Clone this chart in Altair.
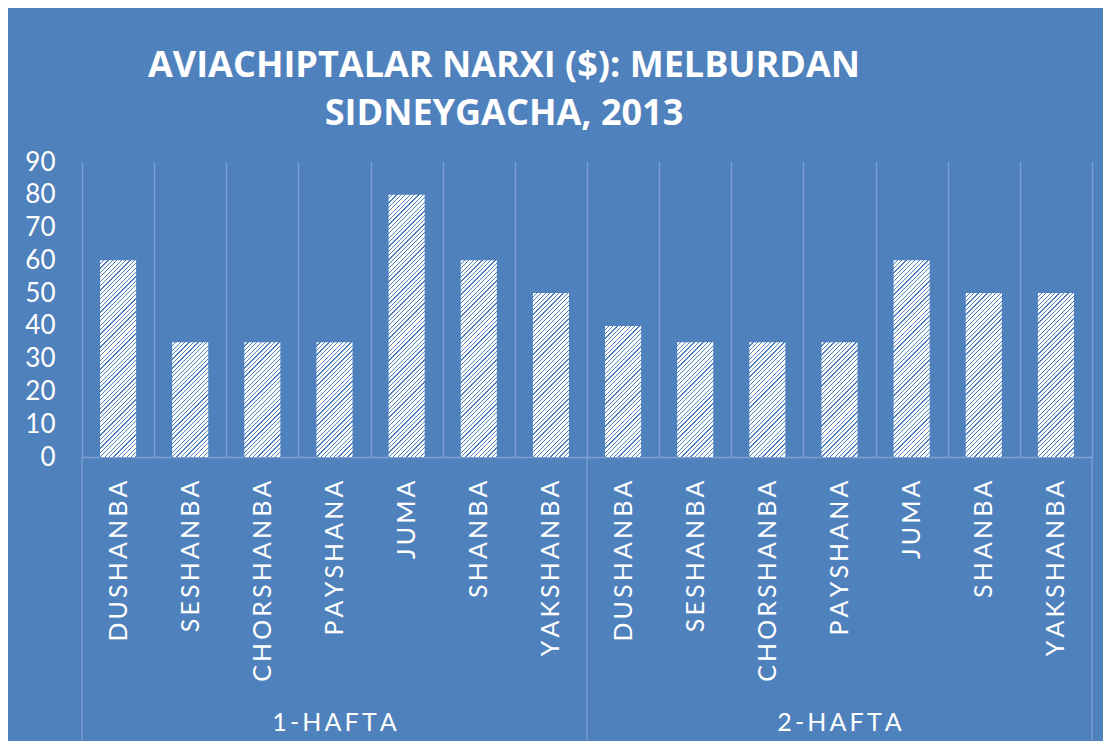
import json
import altair as alt
import pandas as pd

# ---------------- data ----------------
weeks = ["1-HAFTA", "2-HAFTA"]
days = ["DUSHANBA", "SESHANBA", "CHORSHANBA", "PAYSHANA", "JUMA", "SHANBA", "YAKSHANBA"]
week1_prices = [60, 35, 35, 35, 80, 60, 50]
week2_prices = [40, 35, 35, 35, 60, 50, 50]
y_ticks = [0, 10, 20, 30, 40, 50, 60, 70, 80, 90]
title_lines = ["AVIACHIPTALAR NARXI ($): MELBURDAN", "SIDNEYGACHA, 2013"]

# ---------------- layout / style ----------------
PLOT_W, PLOT_H = 1010, 295
BG = "#4F81BD"
GRID = "#7FA1D2"
FONT = "Lato"
THIN = "\u2009"

n_days = len(days)
n_cat = n_days * len(weeks)
step_px = PLOT_W / n_cat
bar_w_px = step_px * 0.5

rows = []
for wi, (wk, vals) in enumerate(zip(weeks, [week1_prices, week2_prices])):
    for di, (d, v) in enumerate(zip(days, vals)):
        rows.append({"week": wk, "day": d, "idx": wi * n_days + di, "value": v})
bars_df = pd.DataFrame(rows)

sep_df = pd.DataFrame({"x": [i * n_days for i in range(len(weeks) + 1)]})
grp_df = pd.DataFrame({"x": [i * n_days + n_days / 2 for i in range(len(weeks))],
                       "week": weeks})

y_max = y_ticks[-1]


def hatch(v, period=4.4, blue_frac=0.28, blue=BG):
    h = v * PLOT_H / y_max
    w = bar_w_px
    k = (w + h) / (w * w + h * h)
    n = max(1, round((w + h) / period))
    stops = []
    for i in range(n):
        a = i / n
        m = (i + 1 - blue_frac) / n
        b = (i + 1) / n
        stops += [
            alt.GradientStop(offset=round(a, 5), color="white"),
            alt.GradientStop(offset=round(m, 5), color="white"),
            alt.GradientStop(offset=round(m, 5), color=blue),
            alt.GradientStop(offset=round(b, 5), color=blue),
        ]
    return alt.LinearGradient(gradient="linear", stops=stops,
                              x1=0, y1=0, x2=round(k * w, 5), y2=round(k * h, 5))


label_arr = json.dumps(days)
label_expr = (f"datum.value < {n_cat} ? join(split({label_arr}[datum.value % {n_days}], ''), '{THIN}') : ''")

x_scale = alt.Scale(domain=[0, n_cat], nice=False, zero=False)
y_scale = alt.Scale(domain=[0, y_max], nice=False)

x_axis = alt.Axis(
    title="", values=list(range(n_cat + 1)), labelExpr=label_expr,
    grid=True, gridColor=GRID, gridWidth=1.3,
    domain=True, domainColor=GRID, domainWidth=1.3,
    ticks=False, tickSize=0,
    labelAngle=270, labelAlign="right", labelBaseline="middle",
    labelPadding=23, labelOffset=step_px / 2, labelLimit=400,
    labelFont=FONT, labelFontSize=25, labelColor="white",
    labelOverlap=False, labelFlush=False, labelBound=False,
)
y_axis = alt.Axis(
    title="", values=y_ticks, grid=False, domain=False, ticks=False, tickSize=0,
    labelPadding=27, labelFont=FONT, labelFontSize=26, labelColor="white",
    labelOverlap=False, labelFlush=False, labelBound=False,
)

base = alt.Chart(bars_df).transform_calculate(
    x="datum.idx + 0.25", x2="datum.idx + 0.75", base0="0"
)

bar_layers = []
for v in sorted(set(week1_prices + week2_prices)):
    bar_layers.append(
        base.transform_filter(alt.datum.value == v)
        .mark_bar(fill=hatch(v), strokeWidth=0)
        .encode(
            x=alt.X("x:Q", scale=x_scale, axis=x_axis),
            x2="x2:Q",
            y=alt.Y("value:Q", scale=y_scale, axis=y_axis),
            y2="base0:Q",
        )
    )

seps = alt.Chart(sep_df).mark_rule(color=GRID, strokeWidth=1.3).encode(
    x=alt.X("x:Q", scale=x_scale, axis=x_axis),
    y=alt.value(PLOT_H),
    y2=alt.value(578),
)

grp = alt.Chart(grp_df).transform_calculate(
    lab=f"join(split(datum.week, ''), '{THIN}')"
).mark_text(font=FONT, fontSize=25, color="white", baseline="middle", align="center").encode(
    x=alt.X("x:Q", scale=x_scale, axis=x_axis),
    y=alt.value(561),
    text="lab:N",
)

chart = alt.layer(*bar_layers, seps, grp).properties(
    width=PLOT_W,
    height=PLOT_H,
    background=BG,
    padding={"left": 74, "top": 154, "right": 11, "bottom": 284},
    autosize=alt.AutoSizeParams(type="none"),
    title=alt.TitleParams(
        text=title_lines, font="Open Sans", fontSize=36, fontWeight="bold", color="white",
        anchor="middle", frame="group", dx=-83, offset=16, lineHeight=48,
    ),
).configure_view(stroke=None).configure_axisY(labelOverlap=False)

chart.save("out.html", embed_options={"renderer": "svg", "actions": False})
